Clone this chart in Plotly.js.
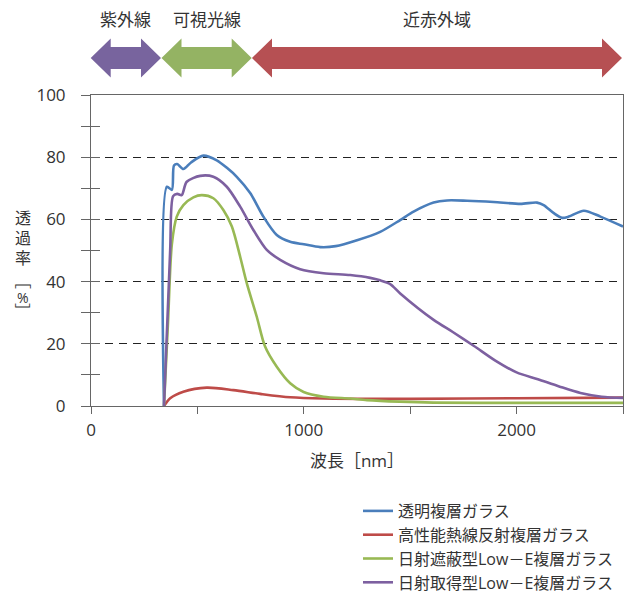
<!DOCTYPE html>
<html>
<head>
<meta charset="utf-8">
<script src="https://cdn.plot.ly/plotly-3.0.1.min.js"></script>
<style>html,body{margin:0;padding:0;background:#fff;}#chart{width:632px;height:593px;}</style>
</head>
<body>
<div id="chart"></div>
<script>
// ---- data (wavelength nm, transmittance %) ----
var seriesNames = ["透明複層ガラス", "高性能熱線反射複層ガラス", "日射遮蔽型Low－E複層ガラス", "日射取得型Low－E複層ガラス"];

var wlBlue = [343, 357, 380, 390, 405, 434, 470, 528, 591, 640, 685, 748, 810, 873, 936, 1000, 1077, 1150, 1250, 1359, 1453, 1516, 1610, 1673, 1767, 1892, 2018, 2096, 2127, 2175, 2214, 2245, 2316, 2394, 2500];
var tBlue  = [0, 70.5, 69.5, 77.3, 77.8, 76.2, 78.3, 80.5, 79.0, 76.5, 73.7, 68.5, 60.9, 55.0, 52.8, 52.0, 51.1, 51.4, 53.3, 56.0, 59.8, 62.5, 65.4, 66.1, 66.0, 65.6, 65.0, 65.4, 64.6, 62.0, 60.5, 60.9, 62.8, 60.9, 57.7];

var wlRed = [343, 372, 434, 544, 669, 795, 936, 1093, 1300, 1500, 2000, 2500];
var tRed  = [0, 2.5, 4.6, 5.9, 5.1, 3.9, 2.8, 2.4, 2.3, 2.3, 2.5, 2.7];

var wlGreen = [343, 362, 380, 403, 434, 481, 521, 575, 622, 662, 701, 732, 779, 818, 873, 936, 999, 1093, 1218, 1297, 1450, 1609, 2000, 2500];
var tGreen  = [0, 27, 52, 60.9, 64.6, 67.1, 67.8, 66.8, 63.0, 57.7, 48.0, 39.5, 28.7, 19.1, 12.6, 7.3, 4.5, 3.0, 2.4, 1.9, 1.4, 1.1, 1.0, 1.0];

var wlPurple = [343, 372, 386, 405, 426, 450, 513, 575, 638, 701, 763, 826, 889, 983, 1093, 1218, 1312, 1359, 1406, 1453, 1610, 1700, 1800, 1900, 2000, 2100, 2200, 2300, 2400, 2500];
var tPurple  = [0, 50, 67.5, 68.2, 67.8, 72.1, 74.0, 73.7, 70.5, 64.1, 56.6, 50.2, 47.0, 44.0, 42.7, 42.1, 41.2, 40.4, 39.2, 36.2, 27.7, 23.8, 19.3, 14.6, 10.8, 8.6, 6.3, 4.2, 3.0, 2.6];

var xTickVals = [0, 500, 1000, 1500, 2000, 2500];
var xTickText = ["0", "", "1000", "", "2000", ""];
var yTickVals = [0, 20, 40, 60, 80, 100];
var yTickText = ["0", "20", "40", "60", "80", "100"];

var bandLabels = ["紫外線", "可視光線", "近赤外域"];
var yTitleChars = ["透", "過", "率", "［", "%", "］"];
var xTitle = "波長［nm］";

// ---- layout helpers (pixel -> paper) ----
var W = 632, H = 593;
var L = 91, R = 623, T = 95, B = 406;
function px(x) { return (x - L) / (R - L); }
function py(y) { return (B - y) / (B - T); }

var colors = ["#4A7EBB", "#BE4B48", "#98B954", "#7D60A0"];
var xs = [wlBlue, wlRed, wlGreen, wlPurple];
var ys = [tBlue, tRed, tGreen, tPurple];

var traces = [];
for (var i = 0; i < 4; i++) {
  traces.push({
    x: xs[i], y: ys[i], name: seriesNames[i], type: "scatter", mode: "lines",
    line: {color: colors[i], width: 2.6, shape: "spline", smoothing: 0.8},
    hoverinfo: "x+y+name"
  });
}
traces.push({x: [], y: [], xaxis: "x", yaxis: "y2", showlegend: false, hoverinfo: "skip", type: "scatter", mode: "lines"});

// arrows
function arrowPath(x0, x1, cy, hh, sh, hl) {
  var p = [[x0, cy], [x0 + hl, cy - hh], [x0 + hl, cy - sh], [x1 - hl, cy - sh], [x1 - hl, cy - hh], [x1, cy], [x1 - hl, cy + hh], [x1 - hl, cy + sh], [x0 + hl, cy + sh], [x0 + hl, cy + hh]];
  return "M" + p.map(function (q) { return px(q[0]).toFixed(5) + "," + py(q[1]).toFixed(5); }).join("L") + "Z";
}
var arrows = [
  {x0: 90.7, x1: 161, c: "#78649E"},
  {x0: 161.5, x1: 251.7, c: "#94B363"},
  {x0: 252, x1: 622, c: "#B65053"}
];
var labelX = [125, 207, 437];
var shapes = arrows.map(function (a) {
  return {type: "path", xref: "paper", yref: "paper", path: arrowPath(a.x0, a.x1, 58, 19.5, 11, 20),
          fillcolor: a.c, line: {width: 0}, layer: "above"};
});

var annotations = [];
for (var k = 0; k < 3; k++) {
  annotations.push({text: bandLabels[k], xref: "paper", yref: "paper", x: px(labelX[k]), y: py(20),
    xanchor: "center", yanchor: "middle", showarrow: false, font: {size: 17, color: "#333"}});
}
var yCharPos = [218, 238, 258, 281, 297, 311];
var yCharAngle = [0, 0, 0, 90, 0, 90];
for (var c = 0; c < yTitleChars.length; c++) {
  annotations.push({text: yTitleChars[c], xref: "paper", yref: "paper", x: px(23), y: py(yCharPos[c]),
    xanchor: "center", yanchor: "middle", showarrow: false, textangle: yCharAngle[c],
    font: {size: c === 4 ? 14 : 16, color: "#333"}});
}

var axisCol = "#666";
var layout = {
  width: W, height: H,
  margin: {l: L, r: W - R, t: T, b: H - B, pad: 0, autoexpand: false},
  paper_bgcolor: "#fff", plot_bgcolor: "#fff",
  font: {family: "'Open Sans', 'Noto Sans CJK JP', sans-serif", color: "#333", size: 17},
  showlegend: true,
  legend: {xref: "container", yref: "container", x: 358 / W, y: 1 - 494 / H, xanchor: "left", yanchor: "top",
           font: {size: 16, color: "#333"}, itemwidth: 30, tracegroupgap: 0, bgcolor: "rgba(0,0,0,0)"},
  xaxis: {range: [0, 2500], tickvals: xTickVals, ticktext: xTickText, ticks: "outside", ticklen: 7,
          tickcolor: axisCol, showline: true, linecolor: axisCol, mirror: true, showgrid: false, zeroline: false,
          automargin: false, ticklabelstandoff: 2, tickfont: {size: 17, color: "#333"},
          title: {text: xTitle, font: {size: 17, color: "#333"}, standoff: 14}},
  yaxis: {range: [0, 100], tickvals: yTickVals, ticktext: yTickText, ticks: "outside", ticklen: 9,
          tickcolor: axisCol, showline: true, linecolor: axisCol, mirror: true, zeroline: false,
          showgrid: true, gridcolor: "#222", gridwidth: 1, griddash: "8px,6px", automargin: false,
          minor: {dtick: 10, tick0: 0, ticks: "outside", ticklen: 9, tickcolor: axisCol, showgrid: false},
          ticklabelstandoff: 12, tickfont: {size: 17, color: "#333"}},
  yaxis2: {overlaying: "y", anchor: "x", side: "left", range: [0, 100], tick0: 0, dtick: 10, ticks: "inside", ticklen: 9,
           tickcolor: axisCol, showticklabels: false, showgrid: false, showline: false, zeroline: false, automargin: false},
  shapes: shapes,
  annotations: annotations
};

Plotly.newPlot("chart", traces, layout, {displayModeBar: false, staticPlot: true});
</script>
</body>
</html>
